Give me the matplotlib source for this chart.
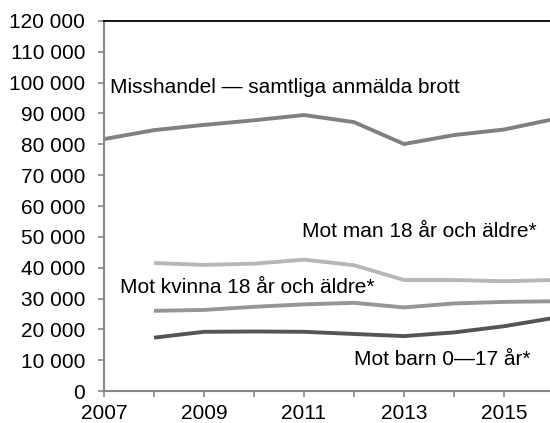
import matplotlib
matplotlib.use("Agg")
import matplotlib.pyplot as plt
from matplotlib.ticker import FuncFormatter

plt.rcParams['font.family'] = ['Liberation Sans', 'DejaVu Sans']

years_all = [2007, 2008, 2009, 2010, 2011, 2012, 2013, 2014, 2015, 2016]
misshandel = [81700, 84600, 86300, 87800, 89500, 87200, 80100, 83000, 84800, 88200]
years_sub = [2008, 2009, 2010, 2011, 2012, 2013, 2014, 2015, 2016]
mot_man = [41500, 40900, 41300, 42600, 40800, 36000, 36000, 35600, 36000]
mot_kvinna = [26000, 26300, 27300, 28100, 28600, 27100, 28400, 28900, 29100]
mot_barn = [17300, 19200, 19300, 19200, 18500, 17800, 19000, 21000, 23700]

labels = {
    'misshandel': "Misshandel \u2014 samtliga anmälda brott",
    'man': "Mot man 18 år och äldre*",
    'kvinna': "Mot kvinna 18 år och äldre*",
    'barn': "Mot barn 0\u201417 år*",
}

fig = plt.figure(figsize=(5.5, 4.23), dpi=100)
ax = fig.add_axes([104/550, 1-391/423, 450/550, 370/423])

ax.plot(years_all, misshandel, color='#808080', lw=2.8, solid_capstyle='butt')
ax.plot(years_sub, mot_man, color='#b7b7b7', lw=2.8, solid_capstyle='butt')
ax.plot(years_sub, mot_kvinna, color='#969696', lw=2.8, solid_capstyle='butt')
ax.plot(years_sub, mot_barn, color='#555555', lw=2.8, solid_capstyle='butt')

ax.set_xlim(2007, 2016)
ax.set_ylim(0, 120000)
ax.set_yticks(range(0, 120001, 10000))
ax.yaxis.set_major_formatter(FuncFormatter(lambda v, p: f"{int(v):,}".replace(",", " ")))
ax.set_xticks(years_all)
ax.set_xticklabels([str(y) if (y - 2007) % 2 == 0 else "" for y in years_all])
ax.tick_params(axis='both', labelsize=15, colors='#888888', labelcolor='black', length=4.5, width=1.2)
ax.tick_params(axis='y', pad=9)
ax.tick_params(axis='x', pad=5)

for s in ['left', 'bottom']:
    ax.spines[s].set_color('#888888')
    ax.spines[s].set_linewidth(1.5)
ax.spines['top'].set_color('black')
ax.spines['top'].set_linewidth(1.3)
ax.spines['right'].set_visible(False)

fs = 15
ax.text(2007.12, 98300, labels['misshandel'], fontsize=fs, va='center', ha='left')
ax.text(2010.96, 51600, labels['man'], fontsize=fs, va='center', ha='left')
ax.text(2007.32, 33700, labels['kvinna'], fontsize=fs, va='center', ha='left')
ax.text(2012.0, 10300, labels['barn'], fontsize=fs, va='center', ha='left')

fig.savefig("out.png", dpi=100)
